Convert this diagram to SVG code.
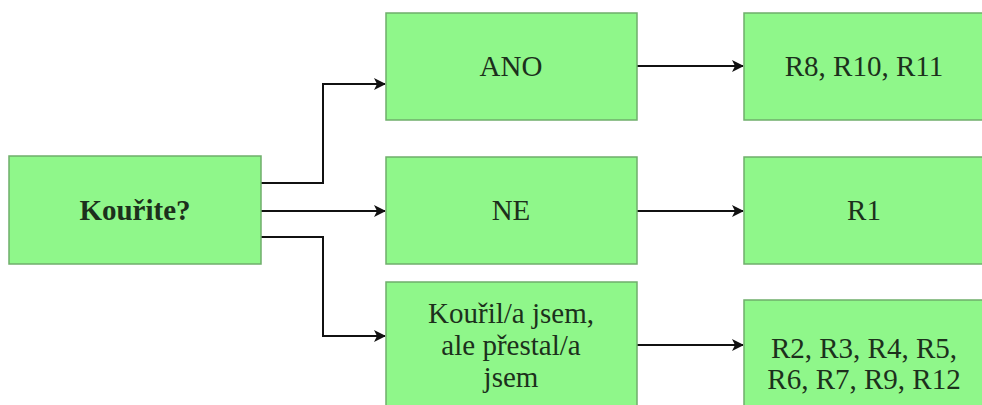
<svg xmlns="http://www.w3.org/2000/svg" width="982" height="405" viewBox="0 0 982 405">
<defs>
<style>
.box{fill:#8ff78a;stroke:#6fae6b;stroke-width:1.5}
text{font-family:"Liberation Serif","Times New Roman","DejaVu Serif",serif;font-size:29px;fill:#1c301c;text-anchor:middle}
.b{font-weight:bold}
.c{fill:none;stroke:#111;stroke-width:2}
</style>
<marker id="ah" markerWidth="12" markerHeight="12" refX="11" refY="6" orient="auto" markerUnits="userSpaceOnUse">
<path d="M0,0 L12,6 L0,12 L3,6 Z" fill="#111"/>
</marker>
</defs>
<rect width="982" height="405" fill="#fff"/>
<g id="connectors">
<path class="c" d="M261,183 H323 V84 H385" marker-end="url(#ah)"/>
<path class="c" d="M261,211 H385" marker-end="url(#ah)"/>
<path class="c" d="M261,237 H323 V336 H385" marker-end="url(#ah)"/>
<path class="c" d="M637,66 H743" marker-end="url(#ah)"/>
<path class="c" d="M637,211 H743" marker-end="url(#ah)"/>
<path class="c" d="M637,345 H743" marker-end="url(#ah)"/>
</g>
<g id="n-kourite">
<rect class="box" x="9" y="156" width="252" height="108"/>
<text class="b" x="135" y="220">Kouřite?</text>
</g>
<g id="n-ano">
<rect class="box" x="386" y="13" width="251" height="107"/>
<text x="511" y="76">ANO</text>
</g>
<g id="n-ne">
<rect class="box" x="386" y="157" width="251" height="107"/>
<text x="511" y="220">NE</text>
</g>
<g id="n-kouril">
<rect class="box" x="386" y="282" width="251" height="130"/>
<text x="511" y="323">Kouřil/a jsem,</text>
<text x="511" y="355">ale přestal/a</text>
<text x="511" y="387">jsem</text>
</g>
<g id="n-r8">
<rect class="box" x="744" y="13" width="245" height="107"/>
<text x="864" y="76">R8, R10, R11</text>
</g>
<g id="n-r1">
<rect class="box" x="744" y="157" width="245" height="107"/>
<text x="864" y="220">R1</text>
</g>
<g id="n-r2">
<rect class="box" x="744" y="300" width="245" height="112"/>
<text x="864" y="358">R2, R3, R4, R5,</text>
<text x="864" y="389">R6, R7, R9, R12</text>
</g>
</svg>
